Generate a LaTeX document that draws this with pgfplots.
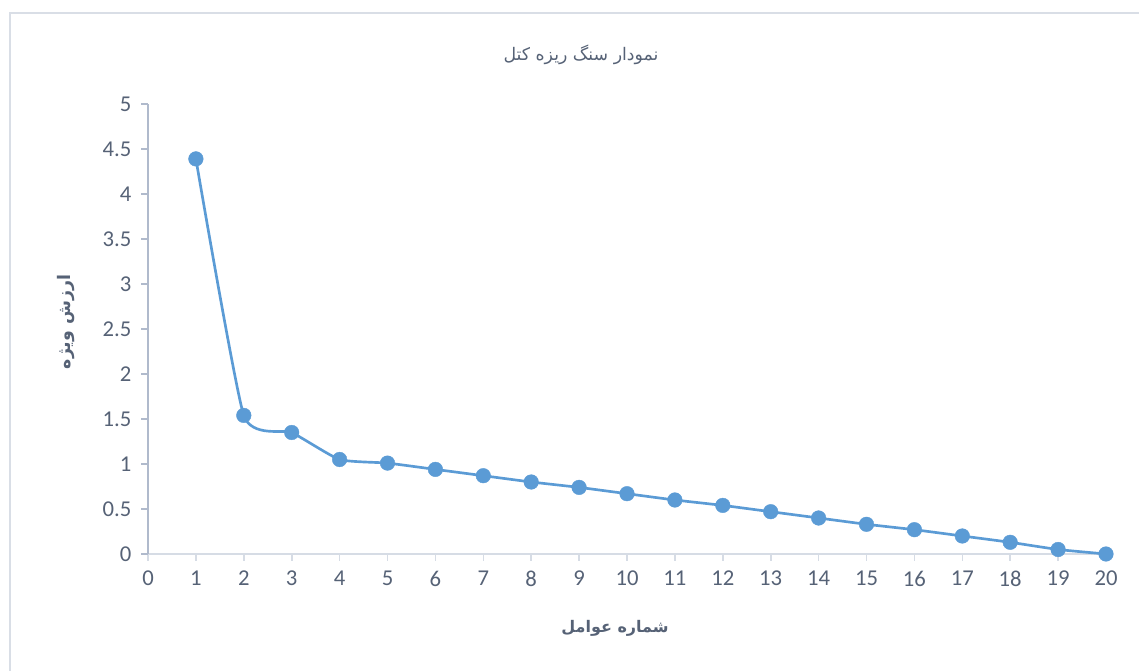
\documentclass[border=0pt]{standalone}
\usepackage{fontspec}
\setmainfont{Carlito}
\newfontfamily\arabicfont[Script=Arabic]{DejaVu Sans}
\TeXXeTstate=1
\usepackage{pgfplots}
\pgfplotsset{compat=1.18}

\definecolor{lineblue}{RGB}{91,155,213}
\definecolor{labelgray}{RGB}{86,98,118}
\definecolor{xaxisgray}{RGB}{214,220,229}
\definecolor{yaxisgray}{RGB}{176,186,204}
\definecolor{framegray}{RGB}{217,222,230}

\begin{document}
\begin{tikzpicture}[x=0.75pt,y=0.75pt]
  \useasboundingbox (0,0) rectangle (1139,671);
  % chart area frame (top and left edges visible)
  \draw[framegray, line width=1.5pt] (10,-5) -- (10,658) -- (1145,658);

  \begin{axis}[
    at={(111pt,87.75pt)}, anchor=south west,
    scale only axis,
    width=718.5pt, height=337.5pt,
    xmin=0, xmax=20, ymin=0, ymax=5,
    xtick={0,1,...,20},
    ytick={0,0.5,...,5},
    axis x line=bottom, axis y line=left,
    axis line style={-},
    x axis line style={xaxisgray, line width=1.2pt},
    y axis line style={yaxisgray, line width=1.2pt},
    tick align=outside,
    major tick length=5pt,
    xtick style={xaxisgray, line width=1.2pt},
    ytick style={yaxisgray, line width=1.2pt},
    ticklabel style={font=\fontsize{17}{20}\selectfont, text=labelgray},
    xticklabel shift=4pt,
    yticklabel shift=4pt,
    /pgf/number format/assume math mode=true,
    yticklabel style={/pgf/number format/.cd, fixed, precision=1},
    clip=false,
    ]
    \addplot[lineblue, line width=2pt, smooth, tension=0.3,
      mark=*, mark size=5.5pt, mark options={fill=lineblue, draw=lineblue, line width=0.3pt}]
      coordinates {
        (1, 4.39)
        (2, 1.54)
        (3, 1.35)
        (4, 1.05)
        (5, 1.01)
        (6, 0.94)
        (7, 0.87)
        (8, 0.80)
        (9, 0.74)
        (10, 0.67)
        (11, 0.60)
        (12, 0.54)
        (13, 0.47)
        (14, 0.40)
        (15, 0.33)
        (16, 0.27)
        (17, 0.20)
        (18, 0.13)
        (19, 0.05)
        (20, 0.00)
      };
  \end{axis}

  % title and axis titles
  \node[text=labelgray, font=\fontsize{13}{16}\selectfont] at (581,616)
    {\arabicfont\beginR نمودار سنگ ریزه کتل\endR};
  \node[text=labelgray, font=\fontsize{12}{15}\selectfont\bfseries] at (615,43)
    {\arabicfont\bfseries\beginR شماره عوامل\endR};
  \node[text=labelgray, rotate=90, font=\fontsize{13}{16}\selectfont\bfseries] at (66,349)
    {\arabicfont\bfseries\beginR ارزش ویژه\endR};
\end{tikzpicture}
\end{document}
